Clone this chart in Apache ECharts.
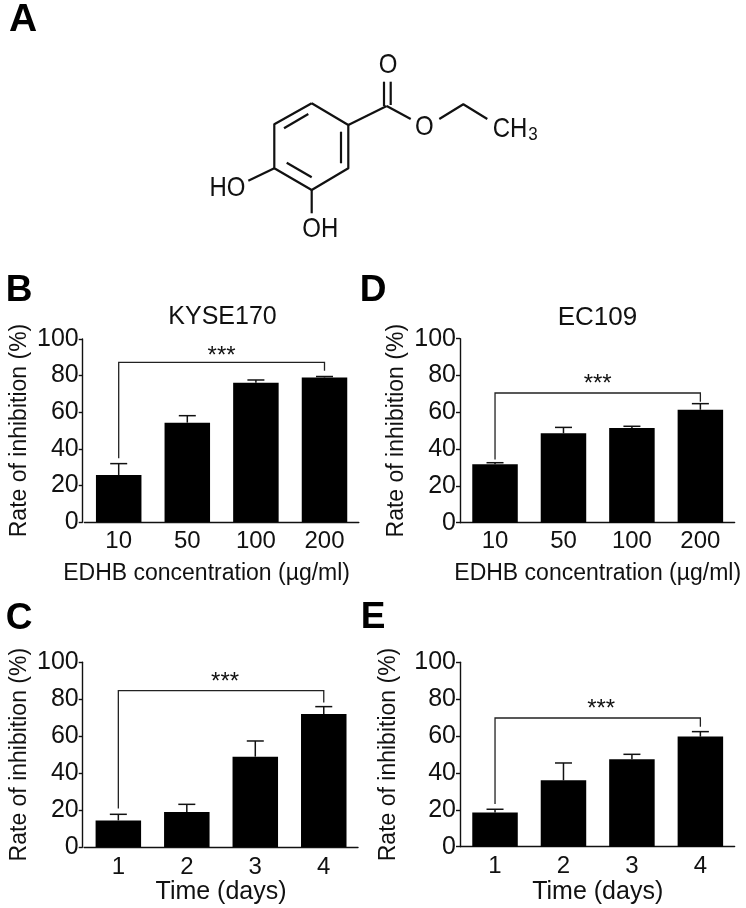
<!DOCTYPE html>
<html>
<head>
<meta charset="utf-8">
<script src="https://cdn.jsdelivr.net/npm/echarts@6/dist/echarts.min.js"></script>
<style>html,body{margin:0;padding:0;background:#fff}#c{width:746px;height:908px}</style>
</head>
<body>
<div id="c"></div>
<script>
const FONT = '"Liberation Sans", Arial, sans-serif';
const INK = '#111';

const concentrationLabels = ['10', '50', '100', '200'];
const timeLabels = ['1', '2', '3', '4'];

const kyseDoseValues = [25.7, 54.3, 76.1, 79];
const kyseDoseUpper = [31.9, 58.1, 77.6, 79.5];
const kyseDoseBracket = [34.8, 87.2, 82.7];
const kyseDoseStars = 93;

const ecDoseValues = [31.7, 48.6, 51.4, 61.4];
const ecDoseUpper = [32.6, 51.8, 52.4, 64.7];
const ecDoseBracket = [34.4, 70.5, 65.8];
const ecDoseStars = 78;

const kyseTimeValues = [14.4, 19, 48.9, 72];
const kyseTimeUpper = [17.7, 23.1, 57.4, 76];
const kyseTimeBracket = [20.9, 84.7, 78.2];
const kyseTimeStars = 92;

const ecTimeValues = [18.6, 36, 47.4, 59.7];
const ecTimeUpper = [20.3, 45.4, 50.1, 62.4];
const ecTimeBracket = [23.1, 69.8, 65.1];
const ecTimeStars = 77.4;

const yLabel = 'Rate of inhibition (%)';
const doseLabel = 'EDHB concentration (µg/ml)';
const timeLabel = 'Time (days)';

const panels = [
  {left: 84.4, width: 274.4, top: 339, height: 183, axisOffset: 1.7, yGap: 52, xGap: 40, xSize: 23, labelMargin: 7, namePad: [0, 30, 0, 0], starShift: 0,
   cats: concentrationLabels, name: doseLabel, vals: kyseDoseValues, upper: kyseDoseUpper, bracket: kyseDoseBracket, stars: kyseDoseStars},
  {left: 460.8, width: 273.8, top: 338.7, height: 184, axisOffset: 0.8, yGap: 52, xGap: 39, xSize: 23, labelMargin: 7, namePad: 0, starShift: 0,
   cats: concentrationLabels, name: doseLabel, vals: ecDoseValues, upper: ecDoseUpper, bracket: ecDoseBracket, stars: ecDoseStars},
  {left: 84.1, width: 273.9, top: 662.3, height: 184.7, axisOffset: 1.4, yGap: 52, xGap: 23, xSize: 25, labelMargin: 8, namePad: 0, starShift: 4,
   cats: timeLabels, name: timeLabel, vals: kyseTimeValues, upper: kyseTimeUpper, bracket: kyseTimeBracket, stars: kyseTimeStars},
  {left: 460.8, width: 273.8, top: 662.3, height: 184.4, axisOffset: 0.8, yGap: 60, xGap: 23, xSize: 25, labelMargin: 8, namePad: 0, starShift: 3.5,
   cats: timeLabels, name: timeLabel, vals: ecTimeValues, upper: ecTimeUpper, bracket: ecTimeBracket, stars: ecTimeStars}
];

const grid = [], xAxis = [], yAxis = [], series = [];
panels.forEach((p, i) => {
  grid.push({left: p.left, top: p.top, width: p.width, height: p.height});
  xAxis.push({
    type: 'category', gridIndex: i, data: p.cats, name: p.name, nameLocation: 'middle', nameGap: p.xGap,
    nameTextStyle: {fontFamily: FONT, fontSize: p.xSize, color: INK, verticalAlign: 'top', padding: p.namePad},
    axisLine: {lineStyle: {color: INK, width: 1.4}}, axisTick: {show: false},
    axisLabel: {fontFamily: FONT, fontSize: 24, color: INK, margin: p.labelMargin}
  });
  yAxis.push({
    type: 'value', gridIndex: i, min: 0, max: 100, interval: 20, offset: p.axisOffset,
    name: yLabel, nameLocation: 'middle', nameGap: p.yGap, nameRotate: 90,
    nameTextStyle: {fontFamily: FONT, fontSize: 23, color: INK},
    axisLine: {show: true, lineStyle: {color: INK, width: 1.4}},
    axisTick: {show: true, length: 4, lineStyle: {color: INK, width: 1.4}},
    axisLabel: {fontFamily: FONT, fontSize: 25, color: INK, margin: 4},
    splitLine: {show: false}
  });
  series.push({
    type: 'custom', xAxisIndex: i, yAxisIndex: i, z: 1, silent: true,
    data: p.cats.map((c, k) => [k, p.upper[k], p.vals[k]]),
    renderItem: (params, api) => {
      const a = api.coord([api.value(0), api.value(2)]);
      const b = api.coord([api.value(0), api.value(1)]);
      const st = {stroke: INK, lineWidth: 1.5};
      return {type: 'group', children: [
        {type: 'line', shape: {x1: a[0], y1: a[1], x2: b[0], y2: b[1]}, style: st},
        {type: 'line', shape: {x1: b[0] - 8.5, y1: b[1], x2: b[0] + 8.5, y2: b[1]}, style: st}
      ]};
    }
  });
  series.push({
    type: 'bar', xAxisIndex: i, yAxisIndex: i, data: p.vals, barWidth: 45.5, z: 2,
    itemStyle: {color: '#000'}, silent: true
  });
  series.push({
    type: 'custom', xAxisIndex: i, yAxisIndex: i, z: 3, silent: true,
    data: [[0, p.bracket[0], p.bracket[1], p.bracket[2], p.stars]],
    renderItem: (params, api) => {
      const last = p.cats.length - 1;
      const l0 = api.coord([0, api.value(1)]);
      const t0 = api.coord([0, api.value(2)]);
      const t1 = api.coord([last, api.value(2)]);
      const r1 = api.coord([last, api.value(3)]);
      const mid = (api.coord([1, 0])[0] + api.coord([2, 0])[0]) / 2 + p.starShift;
      const sy = api.coord([0, api.value(4)])[1];
      return {type: 'group', children: [
        {type: 'polyline', shape: {points: [l0, t0, t1, r1]}, style: {stroke: '#222', lineWidth: 1.3, fill: null}},
        {type: 'text', style: {x: mid, y: sy + 5, text: '***', font: '24px ' + FONT, fill: INK, textAlign: 'center', textVerticalAlign: 'middle'}}
      ]};
    }
  });
});

const titles = [
  {text: 'KYSE170', left: 217.5, top: 300, textAlign: 'center', textStyle: {fontFamily: FONT, fontSize: 25, fontWeight: 'normal', color: INK}},
  {text: 'EC109', left: 592.5, top: 300, textAlign: 'center', textStyle: {fontFamily: FONT, fontSize: 26, fontWeight: 'normal', color: INK}}
];

const letters = [['A', 23, 20, 39], ['B', 19, 291, 37], ['C', 19, 618.5, 37], ['D', 373, 291, 37], ['E', 373, 617.5, 37]];
const atoms = [
  ['O', 388, 66, 24], ['O', 424.3, 127.3, 24], ['HO', 227.5, 188.3, 24], ['OH', 320.3, 230, 24],
  ['CH', 510, 129.3, 24], ['3', 533, 135, 17]
];
const bonds = [
  [[311.7, 103.3], [348.3, 125], [348.3, 168.3], [311.7, 190], [274.3, 168.3], [274.3, 124.3], [311.7, 103.3]],
  [[284, 128.3], [308.3, 114]], [[341, 131.7], [341, 163.3]], [[286.7, 162.7], [311.7, 177.3]],
  [[348.3, 125], [386.7, 106]], [[384, 81.7], [384, 106]], [[390.7, 81.7], [390.7, 105]],
  [[386.7, 106], [410.7, 119]], [[439.3, 119], [463.3, 104.3], [487.3, 119]],
  [[248.3, 180.7], [274.3, 168.3]], [[311.7, 190], [311.7, 213.3]]
];

const graphic = [];
letters.forEach(([t, x, y, s]) => graphic.push({type: 'text', x, y, style: {text: t, font: 'bold ' + s + 'px ' + FONT, fill: '#000', textAlign: 'center', textVerticalAlign: 'middle'}}));
atoms.forEach(([t, x, y, s]) => graphic.push({type: 'text', x, y, scaleY: 1.12, style: {text: t, font: s + 'px ' + FONT, fill: INK, textAlign: 'center', textVerticalAlign: 'middle'}}));
bonds.forEach(pts => graphic.push({type: 'polyline', shape: {points: pts}, style: {stroke: INK, lineWidth: 2.2, fill: null, lineJoin: 'round'}}));

const chart = echarts.init(document.getElementById('c'), null, {renderer: 'canvas'});
chart.setOption({animation: false, backgroundColor: '#fff', title: titles, grid, xAxis, yAxis, series, graphic});
</script>
</body>
</html>
